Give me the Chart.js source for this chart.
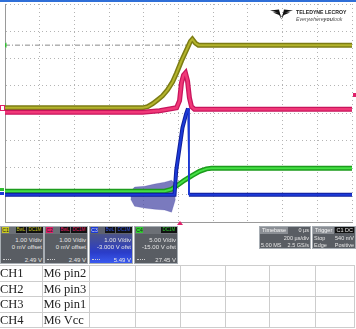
<!DOCTYPE html>
<html>
<head>
<meta charset="utf-8">
<script src="https://cdn.jsdelivr.net/npm/chart.js@4.4.1/dist/chart.umd.min.js"></script>
<style>
  body { margin: 0; width: 356px; height: 329px; overflow: hidden; background: #fff; font-family: "Liberation Sans", Arial, sans-serif; position: relative; }
  #scope { position: absolute; left: 0; top: 0; }
  .topbar { position: absolute; left: 0; top: 0; width: 356px; height: 2px; background: #2f6fd8; }
  .logo { position: absolute; left: 270px; top: 9px; }
  .logo-name { position: absolute; left: 296px; top: 9px; font-size: 6px; font-weight: bold; color: #222; white-space: nowrap; transform: scaleX(0.86); transform-origin: left top; }
  .logo-tag { position: absolute; left: 296px; top: 16px; font-size: 5.5px; font-style: italic; color: #555; white-space: nowrap; transform: scaleX(0.95); transform-origin: left top; }
  .mark { position: absolute; }
  .box { position: absolute; top: 226px; width: 44px; height: 38px; box-sizing: border-box; border: 1px solid #a8aeb4; background: #595d63; color: #e6e6e6; font-size: 6px; white-space: nowrap; }
  .box .hd { position: absolute; left: 0; top: 0; right: 0; height: 7px; background: #6c7076; }
  .box .id { position: absolute; left: 1px; top: 0; width: 7px; height: 6px; font-size: 5px; line-height: 6px; color: #222; text-align: center; }
  .box .tag { position: absolute; top: 0; height: 6px; font-size: 4.5px; line-height: 6px; background: #111; text-align: center; }
  .box .r { position: absolute; right: 1px; text-align: right; }
  .box .dash { position: absolute; left: 2px; bottom: 3px; width: 8px; border-top: 1px dotted #ccc; }
  .info { position: absolute; top: 226px; height: 23px; box-sizing: border-box; border: 1px solid #a8aeb4; background: #595d63; color: #e6e6e6; font-size: 5.5px; white-space: nowrap; }
  .info .lab { position: absolute; left: 0; top: 0; height: 7px; padding: 0 2px; background: #8a8e94; color: #f4f4f4; line-height: 7px; }
  .info .l { position: absolute; left: 1px; }
  .info .r { position: absolute; right: 1px; text-align: right; }
  table { position: absolute; left: -1px; top: 265px; border-collapse: collapse; font-family: "Liberation Serif", "Times New Roman", serif; font-size: 12.5px; color: #222; }
  td { border: 1.5px solid #cdcdcd; height: 14.5px; padding: 0; line-height: 14px; white-space: nowrap; overflow: hidden; }
</style>
</head>
<body>
<canvas id="scope" width="356" height="226"></canvas>
<div class="topbar"></div>

<svg class="logo" width="24" height="11" viewBox="0 0 24 11">
  <polygon points="0,1.5 9,0.5 11.5,10.5 14,0.5 23,1.5 15,3.5 11.5,10.5 8,3.5" fill="#111"/>
  <polygon points="3,3.5 9,3 11.5,8 14,3 20,3.5 11.5,7" fill="#111"/>
</svg>
<div class="logo-name">TELEDYNE LECROY</div>
<div class="logo-tag">Everywhere<b>you</b>look</div>

<div class="mark" style="left:0;top:105px;width:3px;height:4px;border:1px solid #e0206a;"></div>
<div class="mark" style="left:0;top:188px;width:4px;height:3px;background:#30c030;"></div>
<div class="mark" style="left:0;top:192px;width:4px;height:3px;background:#1c3ad8;"></div>
<div class="mark" style="left:353px;top:93px;width:3px;height:4px;background:#e0206a;"></div>
<div class="mark" style="left:177px;top:221px;width:0;height:0;border-left:3px solid transparent;border-right:3px solid transparent;border-bottom:4px solid #e0206a;"></div>

<div class="box" style="left:0;">
  <div class="hd"></div>
  <div class="id" style="background:#c8c820;">C1</div>
  <div class="tag" style="left:15px;width:10px;color:#c8c820;">BwL</div>
  <div class="tag" style="left:26px;width:16px;color:#c8c820;">DC1M</div>
  <div class="r" style="top:10px;">1.00 V/div</div>
  <div class="r" style="top:17px;">0 mV offset</div>
  <div class="dash"></div>
  <div class="r" style="top:30px;">2.49 V</div>
</div>
<div class="box" style="left:44px;">
  <div class="hd"></div>
  <div class="id" style="background:#e0206a;">C2</div>
  <div class="tag" style="left:15px;width:10px;color:#e0206a;">BwL</div>
  <div class="tag" style="left:26px;width:16px;color:#e0206a;">DC1M</div>
  <div class="r" style="top:10px;">1.00 V/div</div>
  <div class="r" style="top:17px;">0 mV offset</div>
  <div class="dash"></div>
  <div class="r" style="top:30px;">2.49 V</div>
</div>
<div class="box" style="left:89px;background:linear-gradient(#5a5e70,#2a3cc8 70%,#3a5af0);">
  <div class="hd" style="background:#5e6270;"></div>
  <div class="id" style="background:#1c3ad8;color:#ddd;">C3</div>
  <div class="tag" style="left:15px;width:10px;color:#3050e0;">BwL</div>
  <div class="tag" style="left:26px;width:16px;color:#3050e0;">DC1M</div>
  <div class="r" style="top:10px;">1.00 V/div</div>
  <div class="r" style="top:17px;">-3.000 V ofst</div>
  <div class="dash"></div>
  <div class="r" style="top:30px;">5.49 V</div>
</div>
<div class="box" style="left:134px;">
  <div class="hd"></div>
  <div class="id" style="background:#30d030;">C4</div>
  <div class="tag" style="left:26px;width:16px;color:#30d030;">DC1M</div>
  <div class="r" style="top:10px;">5.00 V/div</div>
  <div class="r" style="top:17px;">-15.00 V ofst</div>
  <div class="dash"></div>
  <div class="r" style="top:30px;">27.45 V</div>
</div>

<div class="info" style="left:259px;width:52px;">
  <div class="lab">Timebase</div>
  <div class="r" style="top:0;">0 µs</div>
  <div class="r" style="top:8px;">200 µs/div</div>
  <div class="l" style="top:15px;">5.00 MS</div>
  <div class="r" style="top:15px;">2.5 GS/s</div>
</div>
<div class="info" style="left:312px;width:44px;">
  <div class="lab">Trigger</div>
  <div class="r" style="top:0;background:#111;padding:0 1px;">C1 DC</div>
  <div class="l" style="top:8px;">Stop</div>
  <div class="r" style="top:8px;">540 mV</div>
  <div class="l" style="top:15px;">Edge</div>
  <div class="r" style="top:15px;">Positive</div>
</div>

<table>
  <colgroup>
    <col style="width:44px"><col style="width:47px"><col style="width:47px"><col style="width:46px">
    <col style="width:46px"><col style="width:46px"><col style="width:47px"><col style="width:40px">
  </colgroup>
  <tr><td>CH1</td><td>M6 pin2</td><td></td><td></td><td></td><td></td><td></td><td></td></tr>
  <tr><td>CH2</td><td>M6 pin3</td><td></td><td></td><td></td><td></td><td></td><td></td></tr>
  <tr><td>CH3</td><td>M6 pin1</td><td></td><td></td><td></td><td></td><td></td><td></td></tr>
  <tr><td>CH4</td><td>M6 Vcc</td><td></td><td></td><td></td><td></td><td></td><td></td></tr>
</table>

<script>
// time in microseconds (200 us/div, 10 divisions), values in volts per channel
const ch1Time  = [-1000, -207, -178, -149, -121, -92, -63, -34, -11, 17, 46, 69, 80, 98, 115, 1000];
const ch1Volts = [0.19, 0.19, 0.23, 0.34, 0.48, 0.63, 0.85, 1.14, 1.47, 1.91, 2.31, 2.63, 2.71, 2.56, 2.49, 2.49];

const ch2Time  = [-1000, -207, -109, -11, 6, 17, 29, 40, 52, 63, 75, 92, 1000];
const ch2Volts = [0.03, 0.03, 0.08, 0.19, 0.45, 1.10, 1.39, 1.47, 1.18, 0.56, 0.23, 0.14, 0.14];

const ch3Time  = [-1000, -23, -13, 6, 23, 44, 55, 60, 1000];
const ch3Volts = [0, 0, 0.90, 1.73, 2.46, 2.97, 3.17, 0, 0];

const ch3NoiseTime = [-276, -253, -195, -138, -80, -40, -17];
const ch3NoiseHigh = [0.13, 0.28, 0.31, 0.39, 0.46, 0.53, 0.39];
const ch3NoiseLow  = [-0.16, -0.42, -0.49, -0.53, -0.56, -0.64, -0.16];

const ch4Time  = [-1000, -80, -40, -6, 34, 80, 121, 161, 190, 1000];
const ch4Volts = [0.65, 0.65, 1.0, 1.74, 2.66, 3.57, 4.3, 4.75, 4.84, 4.84];

const cursorTime  = [-1000, 60];
const cursorVolts = [2.49, 2.49];

function pts(xs, ys) {
    return xs.map((x, i) => ({ x: x, y: ys[i] }));
}

function trace(data, axis, color, width) {
    return {
        data: data,
        yAxisID: axis,
        borderColor: color,
        borderWidth: width,
        pointRadius: 0,
        fill: false,
        tension: 0
    };
}

// thin line where the CH3 trace drops back to its baseline
const dropWidth = ctx => (ctx.p1.parsed.y < ctx.p0.parsed.y - 1 ? 1 : undefined);

const ch3Outer = trace(pts(ch3Time, ch3Volts), 'y3', '#101e9a', 4);
ch3Outer.segment = { borderWidth: dropWidth };
const ch3Inner = trace(pts(ch3Time, ch3Volts), 'y3', '#1c3ad8', 2);
ch3Inner.segment = { borderWidth: dropWidth };

const cursor = trace(pts(cursorTime, cursorVolts), 'y', '#8a8a8a', 1);
cursor.borderDash = [5, 2, 1, 2];
cursor.pointRadius = [3, 0];
cursor.pointStyle = 'triangle';
cursor.rotation = -90;
cursor.pointBackgroundColor = '#30c030';
cursor.pointBorderWidth = 0;

const noiseHigh = trace(pts(ch3NoiseTime, ch3NoiseHigh), 'y3', 'rgba(60,60,160,0.45)', 0.5);
const noiseLow = trace(pts(ch3NoiseTime, ch3NoiseLow), 'y3', 'rgba(60,60,160,0.45)', 0.5);
noiseLow.fill = '-1';
noiseLow.backgroundColor = 'rgba(70,70,165,0.72)';

// first dataset is drawn on top
const datasets = [
    ch3Inner, ch3Outer,
    trace(pts(ch2Time, ch2Volts), 'y2', '#f03878', 2.5),
    trace(pts(ch2Time, ch2Volts), 'y2', '#c8145c', 5),
    trace(pts(ch1Time, ch1Volts), 'y', '#b4b42c', 2),
    trace(pts(ch1Time, ch1Volts), 'y', '#7c7c14', 5),
    trace(pts(ch4Time, ch4Volts), 'y4', '#44e044', 2),
    trace(pts(ch4Time, ch4Volts), 'y4', '#1c9c1c', 5),
    noiseHigh, noiseLow,
    cursor
];

const hidden = { display: false };

new Chart(document.getElementById('scope'), {
    type: 'line',
    data: { datasets: datasets },
    options: {
        responsive: false,
        animation: false,
        devicePixelRatio: 1,
        layout: { padding: { left: 5, right: 3, top: 2, bottom: 4 } },
        plugins: {
            legend: { display: false },
            tooltip: { enabled: false }
        },
        scales: {
            x: {
                type: 'linear',
                min: -1000,
                max: 1000,
                ticks: { display: false, stepSize: 200 },
                grid: { color: '#b4b4b4', lineWidth: 1, drawTicks: false, borderDash: [1, 3] },
                border: { display: true, color: '#9a9a9a', dash: [1, 3] }
            },
            y: {
                min: -4,
                max: 4,
                ticks: { display: false, stepSize: 1 },
                grid: { color: '#b4b4b4', lineWidth: 1, drawTicks: false, borderDash: [1, 3] },
                border: { display: true, color: '#9a9a9a', dash: [1, 3] }
            },
            y2: { min: -4, max: 4, ...hidden },
            y3: { min: -1, max: 7, ...hidden },
            y4: { min: -5, max: 35, ...hidden }
        }
    }
});
</script>
</body>
</html>
